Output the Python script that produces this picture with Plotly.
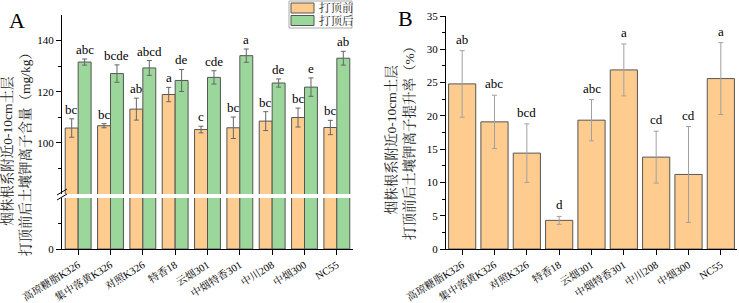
import plotly.graph_objects as go

# ---------------- data ----------------
cats = ["高琼糖脂K326", "集中落黄K326", "对照K326", "特香18", "云烟301",
        "中烟特香301", "中川208", "中烟300", "NC55"]
before = [105.8, 106.7, 113.2, 118.9, 105.2, 105.9, 108.5, 109.9, 106.0]
before_err = [3.6, 0.8, 4.3, 2.8, 1.3, 4.2, 3.7, 3.7, 2.8]
after = [131.6, 127.1, 129.3, 124.4, 125.6, 134.1, 123.4, 121.8, 133.1]
after_err = [1.2, 3.4, 2.9, 4.3, 2.6, 2.6, 1.6, 3.6, 2.7]
before_sig = ["bc", "bc", "ab", "a", "c", "bc", "bc", "bc", "bc"]
after_sig = ["abc", "bcde", "abcd", "de", "cde", "a", "de", "e", "ab"]

rate = [24.8, 19.1, 14.4, 4.3, 19.35, 26.9, 13.8, 11.2, 25.6]
rate_err = [5.0, 4.0, 4.4, 0.6, 3.1, 3.9, 3.9, 7.2, 5.4]
rate_sig = ["ab", "abc", "bcd", "d", "abc", "a", "cd", "cd", "a"]

series_names = ["打顶前", "打顶后"]
a_ticks_upper = [100, 120, 140]
b_ticks = [0, 5, 10, 15, 20, 25, 30, 35]

# ---------------- style ----------------
ORANGE = "#FFCC8F"
GREEN = "#9BD69B"
EDGE = "#555555"
FONT = '"Liberation Serif", "Noto Serif CJK SC", "Noto Sans CJK SC", serif'
W, H = 739, 303

def px_x(p):
    return p / W

def px_y(p):
    return (H - p) / H

idx = list(range(len(cats)))
fig = go.Figure()

bw = 0.4
# Panel A: upper and lower segments (broken axis)
for yax, with_err in [("y", False), ("y2", True)]:
    fig.add_trace(go.Bar(
        x=idx, y=before, width=bw, offset=-bw, name=series_names[0],
        marker=dict(color=ORANGE, line=dict(color=EDGE, width=1)),
        error_y=dict(type="data", array=before_err, color="#666666", thickness=1, width=2.5, visible=with_err),
        xaxis="x", yaxis=yax, showlegend=False))
    fig.add_trace(go.Bar(
        x=idx, y=after, width=bw, offset=0, name=series_names[1],
        marker=dict(color=GREEN, line=dict(color=EDGE, width=1)),
        error_y=dict(type="data", array=after_err, color="#666666", thickness=1, width=2.5, visible=with_err),
        xaxis="x", yaxis=yax, showlegend=False))

# Panel B
fig.add_trace(go.Bar(
    x=idx, y=rate, width=0.84, name="rate",
    marker=dict(color=ORANGE, line=dict(color=EDGE, width=1)),
    error_y=dict(type="data", array=rate_err, color="#A0A0A0", thickness=1, width=2.5),
    xaxis="x2", yaxis="y3", showlegend=False))

annotations = []
for i in idx:
    annotations.append(dict(x=i - bw / 2, y=before[i] + before_err[i], xref="x", yref="y2",
                            text=before_sig[i], showarrow=False, xanchor="center", yanchor="bottom",
                            font=dict(family=FONT, size=13, color="black")))
    annotations.append(dict(x=i + bw / 2, y=after[i] + after_err[i], xref="x", yref="y2",
                            text=after_sig[i], showarrow=False, xanchor="center", yanchor="bottom",
                            font=dict(family=FONT, size=13, color="black")))
    annotations.append(dict(x=i, y=rate[i] + rate_err[i], xref="x2", yref="y3",
                            text=rate_sig[i], showarrow=False, xanchor="center", yanchor="bottom", yshift=2,
                            font=dict(family=FONT, size=13, color="black")))

# panel letters
annotations.append(dict(x=px_x(17), y=px_y(20), xref="paper", yref="paper", text="A", showarrow=False,
                        xanchor="center", yanchor="middle",
                        font=dict(family=FONT, size=22, color="black")))
annotations.append(dict(x=px_x(405), y=px_y(19), xref="paper", yref="paper", text="B", showarrow=False,
                        xanchor="center", yanchor="middle",
                        font=dict(family=FONT, size=22, color="black")))
# y titles
annotations.append(dict(x=px_x(16), y=px_y(151), xref="paper", yref="paper",
                        text="烟株根系附近0-10cm土层<br>打顶前后土壤钾离子含量（mg/kg）",
                        textangle=-90, showarrow=False, xanchor="center", yanchor="middle",
                        font=dict(family=FONT, size=13.5, color="#222")))
annotations.append(dict(x=px_x(400), y=px_y(140), xref="paper", yref="paper",
                        text="烟株根系附近0-10cm土层<br>打顶前后土壤钾离子提升率（%）",
                        textangle=-90, showarrow=False, xanchor="center", yanchor="middle",
                        font=dict(family=FONT, size=13.5, color="#222")))

shapes = []
# break marks on panel A y-axis
for yy in (192, 197):
    shapes.append(dict(type="line", xref="paper", yref="paper",
                       x0=px_x(57), x1=px_x(67), y0=px_y(yy + 3), y1=px_y(yy - 3),
                       line=dict(color="black", width=1)))

# compact legend box (series names & colours)
shapes.append(dict(type="rect", xref="paper", yref="paper",
                   x0=px_x(289), x1=px_x(352), y0=px_y(28), y1=px_y(1),
                   line=dict(color="#AAAAAA", width=1), fillcolor="white", layer="above"))
for k, (nm, col) in enumerate(zip(series_names, [ORANGE, GREEN])):
    top = 3 + k * 12.5
    shapes.append(dict(type="rect", xref="paper", yref="paper",
                       x0=px_x(291), x1=px_x(314), y0=px_y(top + 10), y1=px_y(top),
                       line=dict(color=EDGE, width=1), fillcolor=col, layer="above"))
    annotations.append(dict(x=px_x(317), y=px_y(top + 5), xref="paper", yref="paper", text=nm,
                            showarrow=False, xanchor="left", yanchor="middle",
                            font=dict(family=FONT, size=11.5, color="#222")))

axis_common = dict(showline=True, linecolor="black", linewidth=1, ticks="outside",
                   tickcolor="black", ticklen=5, showgrid=False, zeroline=False,
                   automargin=False)
ytick_font = dict(family=FONT, size=11, color="black")
xtick_font = dict(family=FONT, size=10.5, color="black")

fig.update_layout(
    width=W, height=H, margin=dict(l=0, r=0, t=0, b=0, autoexpand=False),
    paper_bgcolor="white", plot_bgcolor="white",
    barmode="overlay", font=dict(family=FONT), showlegend=False,
    xaxis=dict(domain=[px_x(62), px_x(353)], anchor="y", range=[-0.5, 8.5],
               tickvals=idx, ticktext=cats, tickangle=-32, tickfont=xtick_font, **axis_common),
    yaxis=dict(domain=[px_y(249), px_y(198)], anchor="x", range=[0, 20], tickvals=[0], tickfont=ytick_font,
               minor=dict(tickvals=[10], ticks="outside", ticklen=3, tickcolor="black"), **axis_common),
    yaxis2=dict(domain=[px_y(194), px_y(15)], anchor="x", range=[80, 150], tickvals=a_ticks_upper,
                tickfont=ytick_font,
                minor=dict(tickvals=[90, 110, 130], ticks="outside", ticklen=3, tickcolor="black"), **axis_common),
    xaxis2=dict(domain=[px_x(446), px_x(737)], anchor="y3", range=[-0.5, 8.5],
                tickvals=idx, ticktext=cats, tickangle=-32, tickfont=xtick_font, **axis_common),
    yaxis3=dict(domain=[px_y(249), px_y(16)], anchor="x2", range=[0, 35], tickvals=b_ticks,
                tickfont=ytick_font,
                minor=dict(dtick=2.5, ticks="outside", ticklen=3, tickcolor="black"), **axis_common),
    annotations=annotations, shapes=shapes,
)

fig.write_html("out.html", config={"displayModeBar": False},
               post_script="document.body.style.margin='0';document.body.style.padding='0';"
                           "document.documentElement.style.overflow='hidden';")
